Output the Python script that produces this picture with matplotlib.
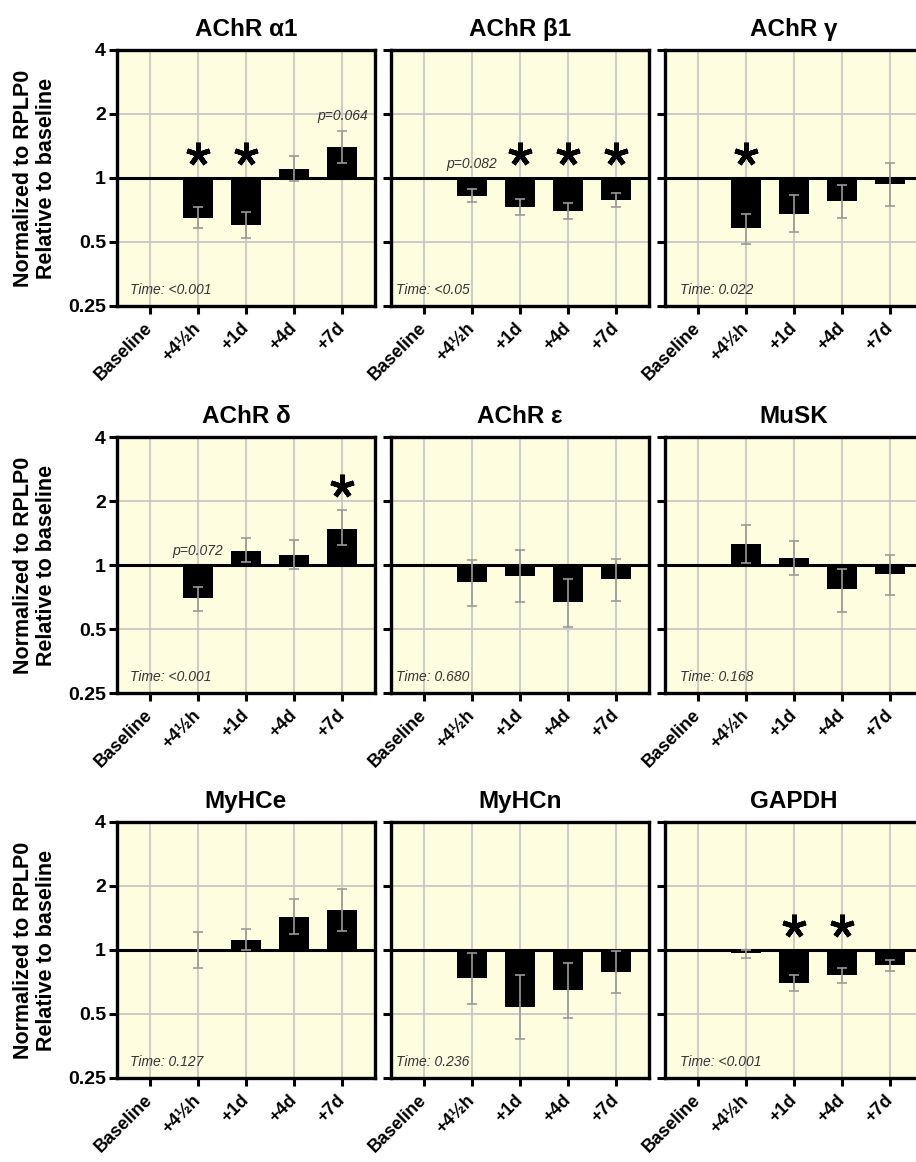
import numpy as np
import matplotlib.pyplot as plt

plt.rcParams['font.family'] = ['Liberation Sans', 'DejaVu Sans']

timepoints = ['Baseline', '+4½h', '+1d', '+4d', '+7d']
genes = ['AChR α1', 'AChR β1', 'AChR γ',
         'AChR δ', 'AChR ε', 'MuSK',
         'MyHCe', 'MyHCn', 'GAPDH']

# fold change vs baseline: mean, lower and upper end of the error bar
a1 = [1.0, 0.65, 0.60, 1.10, 1.40]
a1_lo = [1.0, 0.58, 0.52, 0.97, 1.18]
a1_hi = [1.0, 0.73, 0.69, 1.27, 1.67]

b1 = [1.0, 0.82, 0.73, 0.70, 0.79]
b1_lo = [1.0, 0.77, 0.67, 0.64, 0.73]
b1_hi = [1.0, 0.89, 0.80, 0.76, 0.85]

gam = [1.0, 0.58, 0.68, 0.78, 0.94]
gam_lo = [1.0, 0.49, 0.56, 0.65, 0.74]
gam_hi = [1.0, 0.68, 0.83, 0.93, 1.18]

dlt = [1.0, 0.70, 1.16, 1.11, 1.48]
dlt_lo = [1.0, 0.61, 1.03, 0.96, 1.24]
dlt_hi = [1.0, 0.79, 1.34, 1.31, 1.81]

eps = [1.0, 0.83, 0.885, 0.67, 0.86]
eps_lo = [1.0, 0.64, 0.67, 0.51, 0.68]
eps_hi = [1.0, 1.06, 1.18, 0.86, 1.07]

musk = [1.0, 1.26, 1.08, 0.77, 0.91]
musk_lo = [1.0, 1.02, 0.90, 0.60, 0.72]
musk_hi = [1.0, 1.54, 1.30, 0.96, 1.12]

myhce = [1.0, 1.0, 1.11, 1.43, 1.54]
myhce_lo = [1.0, 0.82, 1.0, 1.19, 1.23]
myhce_hi = [1.0, 1.21, 1.25, 1.74, 1.94]

myhcn = [1.0, 0.74, 0.54, 0.65, 0.79]
myhcn_lo = [1.0, 0.56, 0.38, 0.48, 0.63]
myhcn_hi = [1.0, 0.97, 0.76, 0.87, 0.99]

gapdh = [1.0, 0.97, 0.70, 0.76, 0.85]
gapdh_lo = [1.0, 0.92, 0.64, 0.70, 0.80]
gapdh_hi = [1.0, 1.0, 0.76, 0.82, 0.90]

means = [a1, b1, gam, dlt, eps, musk, myhce, myhcn, gapdh]
lows = [a1_lo, b1_lo, gam_lo, dlt_lo, eps_lo, musk_lo, myhce_lo, myhcn_lo, gapdh_lo]
highs = [a1_hi, b1_hi, gam_hi, dlt_hi, eps_hi, musk_hi, myhce_hi, myhcn_hi, gapdh_hi]

time_p = ['<0.001', '<0.05', '0.022', '<0.001', '0.680', '0.168', '0.127', '0.236', '<0.001']
stars = [[1, 2], [2, 3, 4], [1], [4], [], [], [], [], [2, 3]]
trend_p = [[(4, 'p=0.064')], [(1, 'p=0.082')], [], [(1, 'p=0.072')], [], [], [], [], []]

W, H = 916, 1162
fig = plt.figure(figsize=(W / 100, H / 100), dpi=100)

lefts = [117, 391, 665]
tops = [50, 437, 822]
aw, ah = 258, 256
time_x = [0.05, 0.02, 0.06]
x = np.arange(len(timepoints))

for k in range(9):
    r, c = divmod(k, 3)
    ax = fig.add_axes([lefts[c] / W, 1 - (tops[r] + ah) / H, aw / W, ah / H])
    ax.set_facecolor('#fffde0')
    ax.set_yscale('log', base=2)
    ax.set_ylim(0.25, 4)
    ax.set_xlim(-0.68, 4.68)
    ax.grid(True, color='#c4c4c4', lw=1.2)
    ax.set_axisbelow(True)

    m = np.array(means[k])
    lo = np.array(lows[k])
    hi = np.array(highs[k])
    ax.bar(x, m - 1, bottom=1, width=0.62, color='black', zorder=2)
    ax.axhline(1, color='black', lw=2.2, zorder=2.5)
    e = x[1:]
    ax.errorbar(e, m[1:], yerr=[m[1:] - lo[1:], hi[1:] - m[1:]], fmt='none',
                ecolor='#9a9a9a', elinewidth=1.2, capsize=3.5, capthick=1.2, zorder=3)

    for i in stars[k]:
        ax.plot(i, max(1, hi[i]) * 1.3, marker=(5, 2, 0), ms=17, mew=3.5,
                color='black', zorder=4)
    for i, txt in trend_p[k]:
        ax.text(i, max(1, hi[i]) * 1.17, txt, ha='center', va='center',
                style='italic', fontsize=10, color='#333333')
    ax.text(time_x[c], 0.045, 'Time: ' + time_p[k], transform=ax.transAxes,
            style='italic', fontsize=10, color='#333333', va='baseline')

    for s in ax.spines.values():
        s.set_linewidth(2.4)
    ax.tick_params(direction='out', length=6, width=2.2, pad=2)
    ax.set_yticks([0.25, 0.5, 1, 2, 4])
    ax.minorticks_off()
    if c == 0:
        ax.set_yticklabels(['0.25', '0.5', '1', '2', '4'], fontsize=14, fontweight='bold')
        ax.set_ylabel('Normalized to RPLP0\nRelative to baseline', fontsize=15.5,
                      fontweight='bold', labelpad=8, linespacing=1.15)
    else:
        ax.set_yticklabels([])
    ax.set_xticks(x)
    ax.set_xticklabels(timepoints, rotation=45, ha='right', va='center',
                       rotation_mode='anchor', fontsize=13, fontweight='bold')
    ax.tick_params(axis='x', pad=8)
    ax.set_title(genes[k], fontsize=17.5, fontweight='bold', pad=10)

fig.savefig('out.png', dpi=100)
